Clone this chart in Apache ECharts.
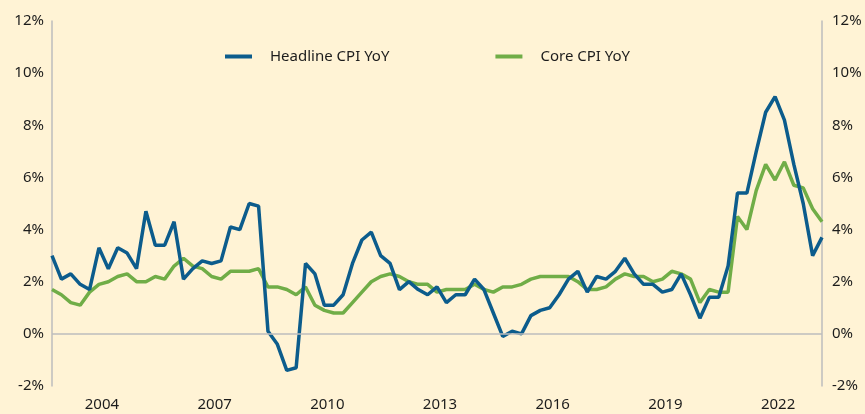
<!DOCTYPE html>
<html>
<head>
<meta charset="utf-8">
<script src="https://cdn.jsdelivr.net/npm/echarts@6/dist/echarts.min.js"></script>
<style>
  html, body { margin: 0; padding: 0; background: #fff3d5; }
  #chart { width: 865px; height: 414px; }
</style>
</head>
<body>
<div id="chart"></div>
<script>
// quarter-end months, Mar 2003 .. Sep 2023
var quarters = [];
for (var y = 2003; y <= 2023; y++) {
  ['Mar', 'Jun', 'Sep', 'Dec'].forEach(function (m) {
    if (y === 2023 && m === 'Dec') return;
    quarters.push(m + ' ' + y);
  });
}

var headlineCpi = [
  3.0, 2.1, 2.3, 1.9,
  1.7, 3.3, 2.5, 3.3,
  3.1, 2.5, 4.7, 3.4,
  3.4, 4.3, 2.1, 2.5,
  2.8, 2.7, 2.8, 4.1,
  4.0, 5.0, 4.9, 0.1,
  -0.4, -1.4, -1.3, 2.7,
  2.3, 1.1, 1.1, 1.5,
  2.7, 3.6, 3.9, 3.0,
  2.7, 1.7, 2.0, 1.7,
  1.5, 1.8, 1.2, 1.5,
  1.5, 2.1, 1.7, 0.8,
  -0.1, 0.1, 0.0, 0.7,
  0.9, 1.0, 1.5, 2.1,
  2.4, 1.6, 2.2, 2.1,
  2.4, 2.9, 2.3, 1.9,
  1.9, 1.6, 1.7, 2.3,
  1.5, 0.6, 1.4, 1.4,
  2.6, 5.4, 5.4, 7.0,
  8.5, 9.1, 8.2, 6.5,
  5.0, 3.0, 3.7
];

var coreCpi = [
  1.7, 1.5, 1.2, 1.1,
  1.6, 1.9, 2.0, 2.2,
  2.3, 2.0, 2.0, 2.2,
  2.1, 2.6, 2.9, 2.6,
  2.5, 2.2, 2.1, 2.4,
  2.4, 2.4, 2.5, 1.8,
  1.8, 1.7, 1.5, 1.8,
  1.1, 0.9, 0.8, 0.8,
  1.2, 1.6, 2.0, 2.2,
  2.3, 2.2, 2.0, 1.9,
  1.9, 1.6, 1.7, 1.7,
  1.7, 1.9, 1.7, 1.6,
  1.8, 1.8, 1.9, 2.1,
  2.2, 2.2, 2.2, 2.2,
  2.0, 1.7, 1.7, 1.8,
  2.1, 2.3, 2.2, 2.2,
  2.0, 2.1, 2.4, 2.3,
  2.1, 1.2, 1.7, 1.6,
  1.6, 4.5, 4.0, 5.5,
  6.5, 5.9, 6.6, 5.7,
  5.6, 4.8, 4.3
];

var yMin = -2, yMax = 12, yStep = 2;

var chart = echarts.init(document.getElementById('chart'));

var fontFamily = 'Noto Sans';
var textColor = '#1c1c1c';
var axisGray = '#bdbdbd';

function yAxisFor(pos) {
  return {
    type: 'value',
    position: pos,
    min: yMin,
    max: yMax,
    interval: yStep,
    axisLine: { show: true, lineStyle: { color: axisGray, width: 1.5 } },
    axisTick: { show: false },
    splitLine: { show: false },
    axisLabel: {
      formatter: '{value}%',
      color: textColor,
      fontFamily: fontFamily,
      fontSize: 15,
      margin: pos === 'left' ? 8 : 10
    }
  };
}

var option = {
  backgroundColor: '#fff3d5',
  animation: false,
  grid: { left: 52, right: 43, top: 21, bottom: 28, containLabel: false },
  legend: {
    data: ['Headline CPI YoY', 'Core CPI YoY'],
    left: 220,
    top: 44,
    icon: 'rect',
    itemWidth: 27,
    itemHeight: 4,
    itemGap: 106,
    textStyle: {
      color: textColor,
      fontFamily: fontFamily,
      fontSize: 15,
      padding: [0, 0, 0, 13]
    }
  },
  xAxis: {
    type: 'category',
    data: quarters,
    boundaryGap: false,
    axisLine: { show: false, onZero: false },
    axisTick: { show: false },
    axisLabel: {
      // one label per three years, sat mid-year
      interval: function (i) { return i % 12 === 5; },
      formatter: function (v) { return v.split(' ')[1]; },
      color: textColor,
      fontFamily: fontFamily,
      fontSize: 15,
      margin: 11,
      padding: [0, 0, 0, 6]
    }
  },
  yAxis: [yAxisFor('left'), yAxisFor('right')],
  series: [{
    name: 'Core CPI YoY',
    type: 'line',
    data: coreCpi,
    showSymbol: false,
    z: 2,
    lineStyle: { color: '#70ad47', width: 3.5 },
    itemStyle: { color: '#70ad47' },
    markLine: {
      silent: true,
      symbol: 'none',
      label: { show: false },
      lineStyle: { color: axisGray, type: 'solid', width: 1.5 },
      data: [{ yAxis: 0 }]
    }
  }, {
    name: 'Headline CPI YoY',
    type: 'line',
    data: headlineCpi,
    showSymbol: false,
    z: 3,
    lineStyle: { color: '#0c5c8c', width: 3.5 },
    itemStyle: { color: '#0c5c8c' }
  }]
};

chart.setOption(option);
</script>
</body>
</html>
